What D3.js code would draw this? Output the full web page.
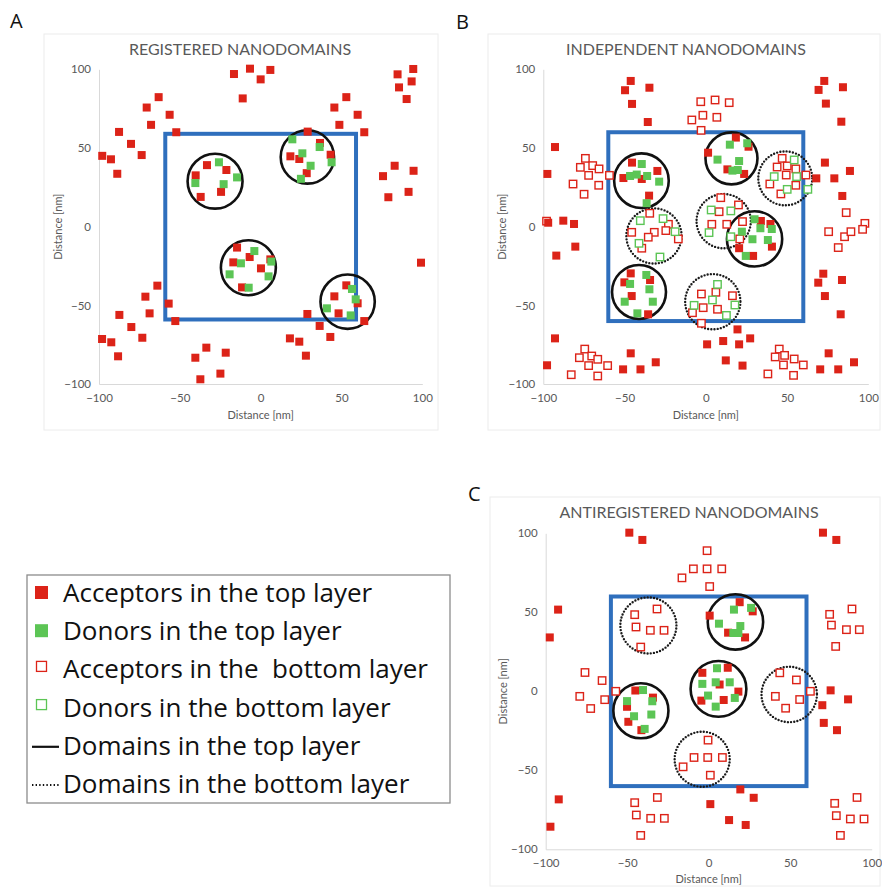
<!DOCTYPE html>
<html>
<head>
<meta charset="utf-8">
<script src="https://cdn.jsdelivr.net/npm/d3@7"></script>
<style>
  body { margin: 0; background: #fff; }
  svg { display: block; }
</style>
</head>
<body>
<svg id="fig" width="882" height="889"></svg>
<script>
// ---------- shared axis ticks ----------
const axisTicks = [-100, -50, 0, 50, 100];

// ---------- A: registered nanodomains ----------
const regTopAcc = [
  [-98,45],[-92.6,42.8],[-88.7,33.6],[-87.6,60.2],[-80.2,52.6],[-73.6,45.5],[-70.5,75.7],[-67.8,64.7],[-63.1,82.3],[-56.3,71.1],[-52.2,60],
  [-16.5,97],[-6.6,100.4],[-11.1,81.5],[0,93.6],[6,99.6],
  [45.6,75.7],[53,82.3],[48.7,64.7],[60,71.1],[64.1,60],
  [84.7,96.8],[94.4,100.2],[85.6,88.5],[93.4,92.3],[90.3,81.1],
  [75.7,32.1],[82.9,38.7],[79,18.7],[94.6,35.5],[91.5,22.1],
  [-40.2,32.6],[-33.2,39.1],[-21.2,36],[-24.5,22.1],[-37.1,18.9],
  [29.1,60.4],[36.7,53.2],[18.4,44.7],[23.9,43],[43.3,45.7],[28.5,34],
  [-14.6,-13.3],[-6.8,-19.3],[-16.9,-22.7],[6,-20.8],[0.2,-26.5],[-11.5,-38.6],
  [53,-37.3],[60,-48.7],[45.6,-44.3],[48.2,-55.1],[64.1,-60],
  [99.2,-22.9],[-63.9,-37.5],[-71.3,-44.5],[-68.7,-55.1],[-56.9,-48.9],[-52.8,-60],[-87.4,-56.1],[-80,-63.8],[-73.2,-70.6],
  [-98.1,-71.4],[-92.4,-73.5],[-88.2,-82.4],[-40.4,-83.3],[-33.6,-76.9],[-37.3,-97],[-24.9,-93.4],[-21.6,-80.1],
  [28.9,-55.5],[36.5,-63.1],[18.1,-71],[23.9,-73.1],[28,-82],[43.1,-70.1]
];
const regTopDon = [
  [-40.4,27.7],[-25.8,40.9],[-14.6,31.3],[-22.9,27],
  [19.6,55.5],[36.5,50.6],[25.8,46.6],[43.9,40.9],[30.9,38.7],[24.9,30.4],
  [-3.9,-15.5],[-12.2,-23.3],[6.6,-22.2],[-19.2,-30.3],[4.9,-31.6],[-7.4,-38.8],
  [56.5,-39.6],[58.8,-46.2],[41,-51.9],[55.7,-56.4]
];
// domains: [centre x, centre y, radius] in nm
const regDomTop = [[-28.2,28.9,17],[28.9,44.3,16.5],[-7.6,-26.1,17],[53.8,-47.7,16.8]];

// ---------- B: independent nanodomains ----------
const indTopAcc = [
  [-97.5,33.5],[-92.8,50.6],[-49.7,86.7],[-46.2,92.6],[-45.4,78],[-34.7,88.3],[-35.7,66.5],
  [69.4,86.9],[72.9,92.6],[73.9,78.2],[84.4,88.6],[83.4,66.7],
  [68,30.7],[73.3,40.7],[79.1,30.7],[88.7,35.4],[84,19.5],
  [-97,2.5],[-87.7,3.8],[-81.1,1.7],[-92,-18.4],[-80.3,-12.7],
  [-45.4,40.7],[-50.7,30.9],[-39.4,30.3],[-29.8,35.4],[-34.9,19.7],
  [18.5,56.6],[26.3,50.8],[1.4,47],[13.3,36.4],[23.6,33.5],
  [33.9,3.6],[39.8,1.7],[20.5,-13.7],[40.7,-12.7],[29.1,-18.6],
  [-46.2,-29.7],[-34.3,-33.9],[-50.1,-35.4],[-45.6,-44.1],[-35.5,-55.7],
  [19.5,-65.3],[27.3,-71],[10.7,-72.7],[0.8,-74.8],[20.5,-74.8],[12.3,-85],[22.6,-88.3],
  [69.2,-35.6],[72.3,-29.9],[73.3,-44.1],[83.8,-33.9],[83,-55.7],[75.6,-80.5],[70.4,-90.7],[81.5,-90.7],[91.2,-86.2],
  [-92.8,-71],[-97.7,-88.1],[-46.2,-80.5],[-50.9,-90.7],[-40.2,-90.7],[-30.8,-86.2]
];
const indTopDon = [
  [-39.4,39.8],[-46.6,32.2],[-42.5,33.1],[-36.1,32.2],[-28.7,28.6],[-36.4,14.9],
  [14.8,52.1],[25.5,53],[7.2,42.6],[20.5,41.7],[16.4,35.6],[19.7,36],
  [30,4.7],[33.6,-1],[40.6,-1.5],[22.2,-3.2],[28.7,-8],[38.2,-8.5],[24.6,-18.6],
  [-36.6,-30.7],[-46.6,-36.4],[-34.7,-39.8],[-49.9,-47.7],[-32.6,-47.7],[-42.1,-55.1]
];
const indBotAcc = [
  [-98,3.5],[-74.1,43.4],[-77.2,37.7],[-69.6,38.8],[-65.7,36.7],[-72.1,32.6],[-81.7,27.1],[-65.9,26.3],[-74.9,20.6],[-59.3,32.6],
  [-3.1,79.4],[5.7,80.5],[14.4,78.8],[-8.6,67.8],[-1.8,70.8],[6.8,69.5],[-2.9,61.2],
  [47,43.4],[43.9,37.9],[50.1,38.6],[55.4,36.7],[49.5,32.8],[61.6,32.8],[39.4,27.1],[55.4,26.3],[46.2,20.8],
  [86.4,8.9],[97.9,2.1],[75.6,-3.2],[81.5,-13.3],[85.4,-6.4],[89.3,-3.2],[96.5,-1.7],
  [-34.5,8.5],[-23,1.5],[-45.6,-3.6],[-31.7,-3.6],[-35.4,-6.7],[-24.6,-2.5],[-16.9,-7.8],[-39.4,-13.7],
  [9.2,18.4],[20.1,13.8],[8.2,9.5],[3.7,1.5],[12.9,1.5],[22.6,3.2],[20.9,-7.8],
  [-2.7,-42.8],[6.2,-41.7],[16.4,-43.9],[-1.6,-51.5],[7.2,-52.5],[-8.2,-54.7],[-2.7,-61.4],
  [-74.5,-77.8],[-77.8,-83.3],[-70.2,-82.2],[-72.1,-88.3],[-66.5,-84.3],[-82.8,-94.1],[-66.5,-94.9],[-60.4,-88.3],
  [38.2,-93.6],[45.2,-77.8],[42.7,-82.8],[48.5,-81.8],[54.4,-84.1],[47.8,-87.9],[60,-87.9],[54,-94.5]
];
const indBotDon = [
  [54.4,42.4],[42.1,31.8],[55.9,31.8],[50.1,23.7],[62.8,23.7],
  [-40.3,3.8],[-26.3,5.1],[-18.9,-3.2],[-41.1,-10.6],[-28.2,-19.3],
  [3.3,10.6],[15.4,10],[2,-3.8],[15.4,-6.4],
  [7.2,-36.7],[4.1,-46.6],[-7.2,-50],[17.9,-49.8],[12.7,-56.4]
];
const indDomTop = [[-39.6,29.2,16.8],[15.8,43.4,16],[30,-7.8,17],[-41.1,-41.5,16.6]];
const indDomBot = [[48.9,30.7,16.6],[-31.9,-5.9,17],[11,3.5,16.7],[4.3,-47.7,17]];

// ---------- C: antiregistered nanodomains ----------
const antTopAcc = [
  [-48.7,100.4],[-40.7,95.8],[70.1,100.4],[78.3,95.8],[-92.4,51.7],[-97.5,34.1],
  [19,56.4],[27,50.6],[0.6,47.9],[11.9,37.1],[22.3,34.1],
  [-3.9,11.7],[11.7,14.9],[6.7,4.3],[18.2,-0.2],[-4.5,-5.9],[9.2,-5.5],
  [-45,0.5],[-50.1,-9.8],[-34.2,-4],[-49.3,-19.3],[-41.3,-24.6],
  [74.8,0.6],[85.5,-5.1],[69.7,-8.8],[70.6,-20],[78.7,-24.6],
  [19.4,-62.1],[27.6,-67.4],[1,-71.4],[12.5,-81.5],[22.7,-84.6],[-92,-68.4],[-97.1,-85.7]
];
const antTopDon = [
  [15.5,51.7],[26,52.8],[6.3,42.8],[19.4,41.3],[15.1,36.9],[18.2,36.9],
  [5.1,14.6],[-3.9,4.7],[4.3,5.7],[12.9,5.7],[-0.4,-2.7],[16,-4.2],[4.3,-9.7],
  [-40.3,0.8],[-50.1,-6.2],[-34.6,-6.3],[-45.8,-15.8],[-35.2,-14.7],[-39.3,-23.8]
];
const antBotAcc = [
  [-1,89],[-16.4,71.8],[-9.4,77.5],[-1,77.5],[8,77.5],[0.6,66.3],
  [-45.4,48.5],[-31.7,52.1],[-44.6,40.7],[-35.8,38.6],[-27.4,38.6],[-41.7,28],
  [74.2,48.7],[87.9,52.1],[75.3,41.9],[84.5,39],[92.4,39],[77.9,28.4],
  [-75.9,11.9],[-65.4,6.8],[-79.1,-3.2],[-72.4,-10.9],[-63.8,-5.3],[-57,0],
  [43.6,11.7],[53.8,7.2],[40.9,-3.2],[55.8,-5.2],[47.2,-10.7],[62.4,0],
  [-0.4,-30.9],[-9,-41.9],[-0.6,-41.9],[8.4,-41.9],[-15.7,-47.8],[1,-53.1],
  [-45.4,-70.5],[-31.5,-67.2],[-44.4,-78.3],[-35.6,-80.4],[-27.2,-80.4],[-41.7,-91.2],
  [77.3,-70.9],[91,-67.2],[78.3,-78.7],[86.9,-80.8],[95.3,-80.8],[80.8,-91.2]
];
const antDomTop = [[16.4,43.9,17],[6,1.5,17.1],[-41.6,-12.3,16.9]];
const antDomBot = [[-37,41.7,17.2],[49.4,-2,17],[-4,-43,16.9]];

// half-width of the central square (nm) for each panel
const squareHalf = [59, 60, 60];

// ---------- legend entries ----------
const legendItems = [
  { kind: 'filled', color: 'red',   text: 'Acceptors in the top layer' },
  { kind: 'filled', color: 'green', text: 'Donors in the top layer' },
  { kind: 'open',   color: 'red',   text: 'Acceptors in the  bottom layer' },
  { kind: 'open',   color: 'green', text: 'Donors in the bottom layer' },
  { kind: 'solid',  text: 'Domains in the top layer' },
  { kind: 'dotted', text: 'Domains in the bottom layer' }
];

// ---------- styles ----------
const COL = { red: '#dc2318', green: '#5cc555', blue: '#2f6fbd', axis: '#d9d9d9', text: '#595959' };
const FONT = 'Lato, "Open Sans", "DejaVu Sans", sans-serif';
const LEGEND_FONT = '"Open Sans", Lato, "DejaVu Sans", sans-serif';
const MARK = 8;     // filled square side, px
const OPEN = 7.4;   // open square side, px

const svg = d3.select('#fig');
svg.append('rect').attr('width', 882).attr('height', 889).attr('fill', '#fff');

const panels = [
  { label: 'A', labelPos: [10, 28], title: 'REGISTERED NANODOMAINS', titlePos: [240, 55],
    frame: [44, 34, 438, 430], xr: [99, 422.3], yr: [384, 69.3], yLabelX: 62, xLabelY: 419,
    topAcc: regTopAcc, topDon: regTopDon, botAcc: [], botDon: [], domTop: regDomTop, domBot: [], half: squareHalf[0] },
  { label: 'B', labelPos: [456, 29], title: 'INDEPENDENT NANODOMAINS', titlePos: [686, 55],
    frame: [488, 34, 880, 430], xr: [543.3, 868.3], yr: [384, 69.3], yLabelX: 506, xLabelY: 419,
    topAcc: indTopAcc, topDon: indTopDon, botAcc: indBotAcc, botDon: indBotDon, domTop: indDomTop, domBot: indDomBot, half: squareHalf[1] },
  { label: 'C', labelPos: [468, 501], title: 'ANTIREGISTERED NANODOMAINS', titlePos: [689, 518],
    frame: [490, 497, 880, 886], xr: [545.7, 871.7], yr: [849.3, 533.3], yLabelX: 507, xLabelY: 883,
    topAcc: antTopAcc, topDon: antTopDon, botAcc: antBotAcc, botDon: [], domTop: antDomTop, domBot: antDomBot, half: squareHalf[2] }
];

panels.forEach(drawPanel);
drawLegend();

function drawPanel(p) {
  const g = svg.append('g');
  const x = d3.scaleLinear().domain([-100, 100]).range(p.xr);
  const y = d3.scaleLinear().domain([-100, 100]).range(p.yr);

  // faint chart-area frame
  g.append('rect')
    .attr('x', p.frame[0]).attr('y', p.frame[1])
    .attr('width', p.frame[2] - p.frame[0]).attr('height', p.frame[3] - p.frame[1])
    .attr('fill', 'none').attr('stroke', '#ececec').attr('stroke-width', 1);

  // axes
  const ax = g.append('g').attr('transform', `translate(0,${y(-100)})`)
    .call(d3.axisBottom(x).tickValues(axisTicks).tickSize(0).tickPadding(10));
  const ay = g.append('g').attr('transform', `translate(${x(-100)},0)`)
    .call(d3.axisLeft(y).tickValues(axisTicks).tickSize(0).tickPadding(8));
  [ax, ay].forEach(a => {
    a.select('.domain').attr('stroke', COL.axis).attr('stroke-width', 1);
    a.selectAll('text').attr('fill', COL.text).attr('font-family', FONT).attr('font-size', 11.5);
  });

  // axis titles
  g.append('text').attr('x', (p.xr[0] + p.xr[1]) / 2).attr('y', p.xLabelY)
    .attr('text-anchor', 'middle').attr('font-family', FONT).attr('font-size', 11)
    .attr('fill', COL.text).text('Distance [nm]');
  const cy = (p.yr[0] + p.yr[1]) / 2;
  g.append('text').attr('transform', `translate(${p.yLabelX},${cy}) rotate(-90)`)
    .attr('text-anchor', 'middle').attr('font-family', FONT).attr('font-size', 11)
    .attr('fill', COL.text).text('Distance [nm]');

  // chart title and panel letter
  g.append('text').attr('x', p.titlePos[0]).attr('y', p.titlePos[1])
    .attr('text-anchor', 'middle').attr('font-family', FONT).attr('font-size', 16)
    .attr('fill', COL.text).text(p.title);
  g.append('text').attr('x', p.labelPos[0]).attr('y', p.labelPos[1])
    .attr('font-family', LEGEND_FONT).attr('font-size', 20).attr('fill', '#111').text(p.label);

  // central square
  g.append('rect')
    .attr('x', x(-p.half)).attr('y', y(p.half))
    .attr('width', x(p.half) - x(-p.half)).attr('height', y(-p.half) - y(p.half))
    .attr('fill', 'none').attr('stroke', COL.blue).attr('stroke-width', 4);

  // domains
  const rpx = r => x(r) - x(0);
  g.selectAll('.domTop').data(p.domTop).join('circle')
    .attr('cx', d => x(d[0])).attr('cy', d => y(d[1])).attr('r', d => rpx(d[2]))
    .attr('fill', 'none').attr('stroke', '#111').attr('stroke-width', 2.6);
  g.selectAll('.domBot').data(p.domBot).join('circle')
    .attr('cx', d => x(d[0])).attr('cy', d => y(d[1])).attr('r', d => rpx(d[2]))
    .attr('fill', 'none').attr('stroke', '#1a1a1a').attr('stroke-width', 2.4)
    .attr('stroke-dasharray', '0 3.2').attr('stroke-linecap', 'round');

  // molecules: bottom layer (open) then top layer (filled)
  const open = (data, color) => g.append('g').selectAll('rect').data(data).join('rect')
    .attr('x', d => x(d[0]) - OPEN / 2).attr('y', d => y(d[1]) - OPEN / 2)
    .attr('width', OPEN).attr('height', OPEN)
    .attr('fill', '#fff').attr('stroke', color).attr('stroke-width', 1.4);
  const filled = (data, color) => g.append('g').selectAll('rect').data(data).join('rect')
    .attr('x', d => x(d[0]) - MARK / 2).attr('y', d => y(d[1]) - MARK / 2)
    .attr('width', MARK).attr('height', MARK).attr('fill', color);
  open(p.botAcc, COL.red);
  open(p.botDon, COL.green);
  filled(p.topAcc, COL.red);
  filled(p.topDon, COL.green);
}

function drawLegend() {
  const g = svg.append('g');
  const box = { x: 27, y: 575, w: 423, h: 228 };
  g.append('rect').attr('x', box.x).attr('y', box.y).attr('width', box.w).attr('height', box.h)
    .attr('fill', '#fff').attr('stroke', '#8c8c8c').attr('stroke-width', 1.3);

  const row = d3.scaleLinear().domain([0, legendItems.length - 1]).range([602, 793]);
  const markX = 41.5, textX = 63;
  legendItems.forEach((it, i) => {
    const by = row(i);
    const my = by - 10;
    if (it.kind === 'filled') {
      g.append('rect').attr('x', markX - 6.5).attr('y', my - 6).attr('width', 13).attr('height', 13)
        .attr('fill', COL[it.color]);
    } else if (it.kind === 'open') {
      g.append('rect').attr('x', markX - 5).attr('y', my - 7).attr('width', 10).attr('height', 10)
        .attr('fill', '#fff').attr('stroke', COL[it.color]).attr('stroke-width', 1.3);
    } else {
      g.append('line').attr('x1', 32).attr('x2', 59).attr('y1', by - 8).attr('y2', by - 8)
        .attr('stroke', '#111').attr('stroke-width', it.kind === 'solid' ? 2.2 : 1.8)
        .attr('stroke-dasharray', it.kind === 'solid' ? null : '1.4 2.2');
    }
    g.append('text').attr('x', textX).attr('y', by)
      .attr('font-family', LEGEND_FONT).attr('font-size', 26).attr('fill', '#111')
      .style('white-space', 'pre').text(it.text);
  });
}
</script>
</body>
</html>
